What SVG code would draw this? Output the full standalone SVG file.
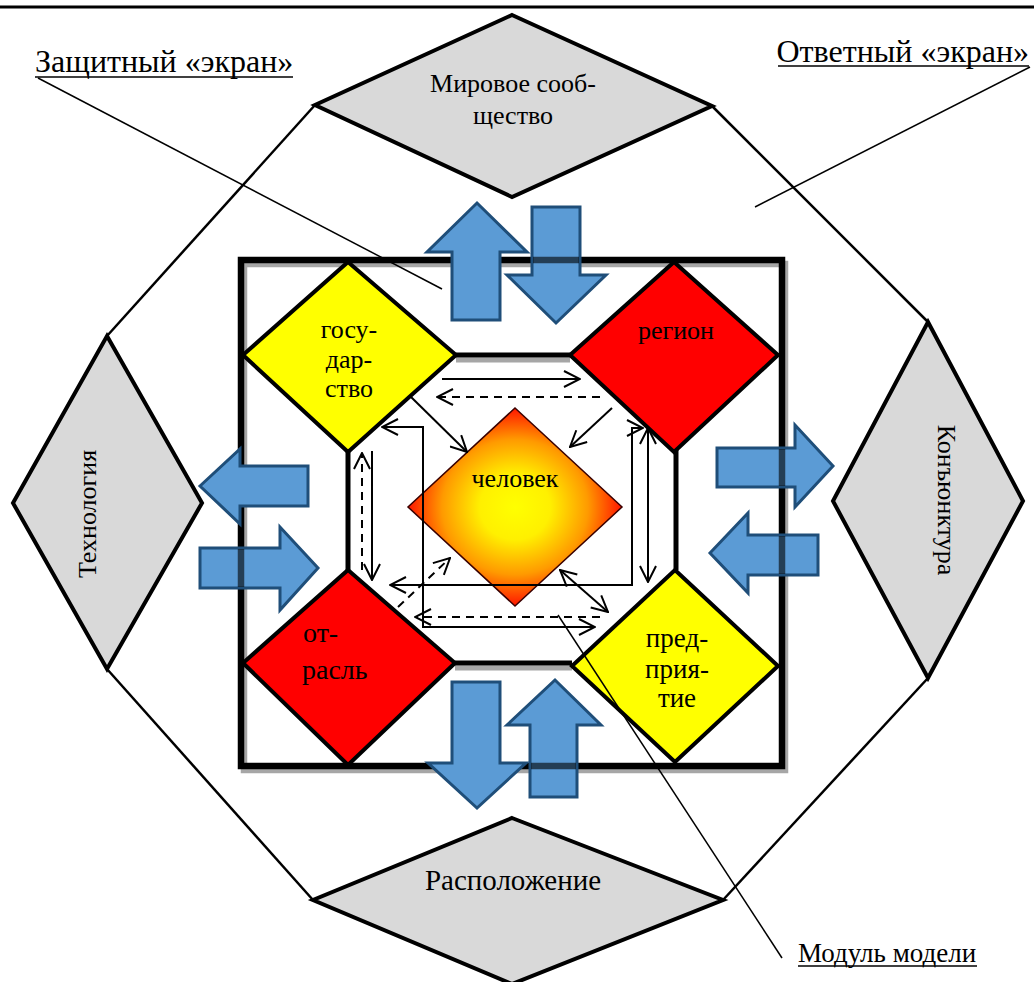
<svg xmlns="http://www.w3.org/2000/svg" width="1034" height="982" viewBox="0 0 1034 982" font-family="'Liberation Serif', 'Times New Roman', serif">
<style>
text{font-family:'Liberation Serif','Times New Roman',serif;fill:#000}
.lbl{font-size:26px;text-anchor:middle}
.cap{font-size:32px}
.oct{stroke:#000;stroke-width:2.5;fill:none}
.gd{fill:#d9d9d9;stroke:#000;stroke-width:4;stroke-linejoin:miter}
.yd{fill:#ffff00;stroke:#000;stroke-width:4}
.rd{fill:#ff0000;stroke:#000;stroke-width:4}
.ba{fill:#5b9bd5;stroke:#1f4e79;stroke-width:3;stroke-linejoin:miter}
.thr{stroke:#000;stroke-opacity:0.6;stroke-width:6.5}
.th{stroke:#000;stroke-width:2;fill:none}
.ds{stroke-dasharray:8 6}
.lead{stroke:#000;stroke-width:1.5;fill:none}
</style>
<defs>
<radialGradient id="hg" cx="50%" cy="50%" r="55%">
<stop offset="0" stop-color="#ffff00"/>
<stop offset="0.3" stop-color="#fff000"/>
<stop offset="0.62" stop-color="#ff9a00"/>
<stop offset="0.9" stop-color="#ff1a00"/>
<stop offset="1" stop-color="#ff0000"/>
</radialGradient>
<marker id="ah" markerUnits="userSpaceOnUse" viewBox="0 0 18 18" refX="17" refY="9" markerWidth="18" markerHeight="18" orient="auto-start-reverse">
<path d="M1,1 L17,9 L1,17" fill="none" stroke="#000" stroke-width="2"/>
</marker>
</defs>
<rect width="1034" height="982" fill="#fff"/>
<line x1="0" y1="7" x2="1034" y2="7" stroke="#000" stroke-width="3"/>

<g id="outer-octagon">
<line class="oct" x1="315" y1="105" x2="107" y2="336"/>
<line class="oct" x1="712" y1="106" x2="928" y2="322"/>
<line class="oct" x1="928" y1="678" x2="723" y2="900"/>
<line class="oct" x1="107" y1="669" x2="313" y2="900"/>
</g>

<g id="node-mir"><polygon class="gd" points="512,15 712,106 512,197 315,105"/>
<text class="lbl" x="513" y="92">Мировое сооб-</text><text class="lbl" x="513" y="124">щество</text></g>
<g id="node-tech"><polygon class="gd" points="107,336 202,503 107,669 13,503"/>
<text class="lbl" transform="translate(96,514) rotate(-90)">Технология</text></g>
<g id="node-konj"><polygon class="gd" points="928,322 1023,501 928,678 833,501"/>
<text class="lbl" transform="translate(938,500) rotate(90)">Конъюнктура</text></g>
<g id="node-rasp"><polygon class="gd" points="512,818 723,900 512,984 313,900"/>
<text class="lbl" x="513" y="890" style="font-size:29px">Расположение</text></g>

<g id="square">
<rect x="244" y="264" width="541" height="506" fill="none" stroke="#a6a6a6" stroke-width="6.5"/>
<rect x="241" y="260" width="541" height="506" fill="none" stroke="#000" stroke-width="6.5"/>
</g>

<g id="inner-octagon">
<g stroke="#a6a6a6" stroke-width="5">
<line x1="456" y1="360" x2="570" y2="360"/>
<line x1="455" y1="668" x2="572" y2="668"/>
</g>
<g stroke="#000" stroke-width="5">
<line x1="456" y1="355" x2="570" y2="355"/>
<line x1="348" y1="450" x2="348" y2="570"/>
<line x1="676" y1="450" x2="676" y2="570"/>
<line x1="455" y1="663" x2="572" y2="663"/>
</g>
</g>

<g id="node-gos"><polygon class="yd" points="348,262 456,355 348,452 243,355"/>
<text class="lbl" x="349" y="338">госу-</text><text class="lbl" x="349" y="368">дар-</text><text class="lbl" x="349" y="397">ство</text></g>
<g id="node-region"><polygon class="rd" points="674,262 778,355 674,452 570,355"/>
<text class="lbl" x="676" y="339">регион</text></g>
<g id="node-otrasl"><polygon class="rd" points="348,570 455,663 348,765 243,663"/>
<text x="303" y="642" font-size="28">от-</text><text x="302" y="679" font-size="28">расль</text></g>
<g id="node-pred"><polygon class="yd" points="675,570 778,666 675,762 572,666"/>
<text class="lbl" x="677" y="647" style="font-size:27px">пред-</text><text class="lbl" x="677" y="678" style="font-size:27px">прия-</text><text class="lbl" x="677" y="707" style="font-size:27px">тие</text></g>
<g id="node-chelovek"><polygon points="515,408 622,507 515,606 408,507" fill="url(#hg)" stroke="#3a0000" stroke-width="1.5"/>
<text class="lbl" x="515" y="487">человек</text></g>

<g id="connectors">
<line class="th" x1="442" y1="379" x2="580" y2="379" marker-end="url(#ah)"/>
<line class="th ds" x1="600" y1="397" x2="437" y2="397" marker-end="url(#ah)"/>
<line class="th" x1="410" y1="396" x2="467" y2="452" marker-end="url(#ah)"/>
<line class="th" x1="612" y1="408" x2="570" y2="447" marker-end="url(#ah)"/>
<polyline class="th" points="382,427 423,427 423,627 595,627" marker-start="url(#ah)" marker-end="url(#ah)"/>
<polyline class="th" points="390,585 632,585 632,428 643,428" marker-start="url(#ah)" marker-end="url(#ah)"/>
<line class="th ds" x1="362" y1="570" x2="362" y2="453" marker-end="url(#ah)"/>
<line class="th" x1="372" y1="451" x2="372" y2="580" marker-end="url(#ah)"/>
<line class="th" x1="648" y1="428" x2="648" y2="582" marker-start="url(#ah)" marker-end="url(#ah)"/>
<line class="th ds" x1="398" y1="607" x2="450" y2="558" marker-end="url(#ah)"/>
<line class="th" x1="560" y1="570" x2="608" y2="612" marker-start="url(#ah)" marker-end="url(#ah)"/>
<line class="th ds" x1="600" y1="617" x2="415" y2="617" marker-end="url(#ah)"/>
</g>

<g id="flows">
<path class="ba" d="M477,203 L527,252 L500,252 L500,320 L452,320 L452,252 L427,252 Z"/>
<path class="ba" d="M532,207 L580,207 L580,275 L606,275 L556,323 L507,275 L532,275 Z"/>
<line class="thr" x1="533" y1="260" x2="579" y2="260"/>
<path class="ba" d="M452,682 L500,682 L500,763 L526,763 L477,808 L428,763 L452,763 Z"/>
<path class="ba" d="M555,680 L601,725 L577,725 L577,797 L530,797 L530,725 L507,725 Z"/>
<line class="thr" x1="531" y1="766" x2="576" y2="766"/>
<path class="ba" d="M200,486 L240,449 L240,466 L308,466 L308,506 L240,506 L240,524 Z"/>
<path class="ba" d="M200,548 L280,548 L280,527 L318,568 L280,610 L280,588 L200,588 Z"/>
<line class="thr" x1="241" y1="549" x2="241" y2="587"/>
<path class="ba" d="M717,448 L795,448 L795,425 L833,466 L795,507 L795,487 L717,487 Z"/>
<line class="thr" x1="782" y1="449" x2="782" y2="486"/>
<path class="ba" d="M710,553 L748,513 L748,535 L818,535 L818,575 L748,575 L748,593 Z"/>
<line class="thr" x1="782" y1="536" x2="782" y2="574"/>
</g>

<g id="callouts">
<text class="cap" x="35" y="72">Защитный «экран»</text>
<line x1="35" y1="77" x2="293" y2="77" stroke="#000" stroke-width="1.5"/>
<line class="lead" x1="38" y1="78" x2="442" y2="289"/>
<text class="cap" x="1029" y="62" text-anchor="end">Ответный «экран»</text>
<line x1="778" y1="66" x2="1029" y2="66" stroke="#000" stroke-width="1.5"/>
<line class="lead" x1="1030" y1="67" x2="755" y2="207"/>
<text x="798" y="962" font-size="27">Модуль модели</text>
<line x1="798" y1="966" x2="977" y2="966" stroke="#000" stroke-width="1.5"/>
<line class="lead" x1="558" y1="615" x2="782" y2="958"/>
</g>
</svg>
